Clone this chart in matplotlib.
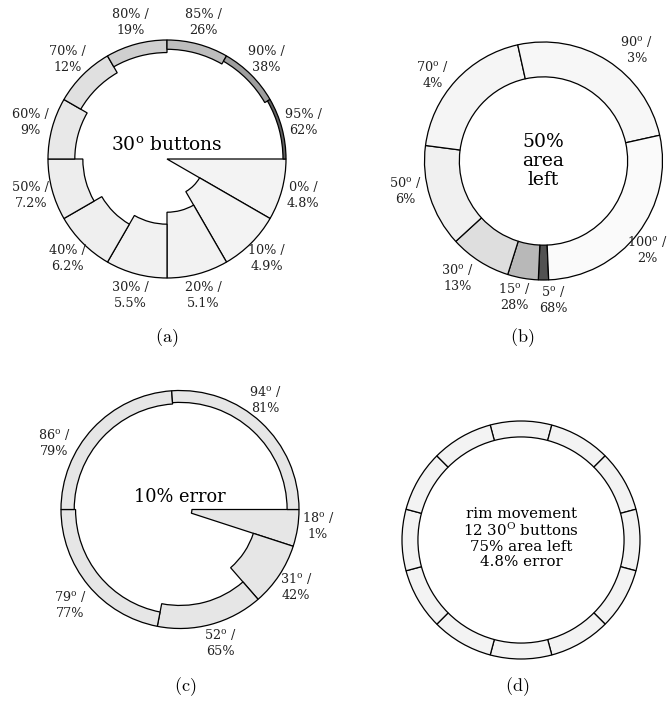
import matplotlib
matplotlib.use('Agg')
import matplotlib.pyplot as plt
from matplotlib.patches import Wedge
import numpy as np

plt.rcParams['font.family'] = 'DejaVu Serif'
plt.rcParams['mathtext.fontset'] = 'dejavuserif'

# (a) twelve 30 degree buttons, hole area grows
a_area = [0, 10, 20, 30, 40, 50, 60, 70, 80, 85, 90, 95]
a_error = [4.8, 4.9, 5.1, 5.5, 6.2, 7.2, 9, 12, 19, 26, 38, 62]
a_width = [30] * 12

# (b) 50% area left, button sizes vary
b_width = [5, 15, 30, 50, 70, 90, 100]
b_error = [68, 28, 13, 6, 4, 3, 2]
b_area = 50

# (c) 10% error, button size vs area left
c_width = [18, 31, 52, 79, 86, 94]
c_area = [1, 42, 65, 77, 79, 81]
c_error = 10

# (d) rim movement
d_width = [30] * 12
d_area = 75
d_error = 4.8
d_text = "rim movement\n12 30$^{\\mathrm{O}}$ buttons\n75% area left\n4.8% error"

R = 119
S = 175
W, H = 670, 703

fig = plt.figure(figsize=(6.7, 7.03), dpi=100)


def panel(cx, cy):
    ax = fig.add_axes([(cx - S) / W, (H - cy - S) / H, 2 * S / W, 2 * S / H])
    ax.set_xlim(-S, S)
    ax.set_ylim(-S, S)
    ax.axis('off')
    return ax


def ring(ax, widths, areas, errors, start):
    theta = start
    mids = []
    for w, ar, er in zip(widths, areas, errors):
        rin = R * np.sqrt(ar / 100)
        g = 1 - er / 100
        ax.add_patch(Wedge((0, 0), R, theta - w, theta, width=R - rin,
                           facecolor=(g, g, g), edgecolor='black', lw=0.9))
        mids.append(theta - w / 2)
        theta -= w
    return mids


def labels(ax, mids, texts, nudge, rads):
    for m, t, n, rr in zip(mids, texts, nudge, rads):
        ang = np.deg2rad(m + n)
        ax.text(rr * np.cos(ang), rr * np.sin(ang), t, ha='center', va='center',
                fontsize=9.2, linespacing=1.3, color='#222222')


# (a)
ax = panel(167, 159)
mids = ring(ax, a_width, a_area, a_error, 0)
labels(ax, mids, [f"{a}% /\n{e:g}%" for a, e in zip(a_area, a_error)],
       [0] * 12, [141] * 12)
ax.text(0, 9, "30$^{\\mathrm{o}}$ buttons", ha='center', va='baseline', fontsize=13.5)

# (b)
ax = panel(543.5, 161)
mids = ring(ax, b_width, [b_area] * len(b_width), b_error, 270 + b_width[0] / 2)
labels(ax, mids, [f"{w}$^{{\\mathrm{{o}}}}$ /\n{e}%" for w, e in zip(b_width, b_error)],
       [4, -2, -4, -5.5, 4.5, -7.5, -3], [139, 139, 145, 141, 141, 145, 136])
ax.text(0, 0, "50%\narea\nleft", ha='center', va='center', fontsize=13.5, linespacing=1.05)

# (c)
ax = panel(180, 509.5)
mids = ring(ax, c_width, c_area, [c_error] * len(c_width), 0)
labels(ax, mids, [f"{w}$^{{\\mathrm{{o}}}}$ /\n{a}%" for w, a in zip(c_width, c_area)],
       [2.4, 0, 2, 1.5, 15, 5], [139, 139, 139, 145, 143, 139])
ax.text(0, 7, "10% error", ha='center', va='baseline', fontsize=12.8)

# (d)
ax = panel(521, 540)
ring(ax, d_width, [d_area] * len(d_width), [d_error] * len(d_width), 105)
ax.text(0, 2, d_text, ha='center', va='center', fontsize=10.8, linespacing=1.1)

# captions
for lab, x, y in [('a', 167, 338), ('b', 522, 338), ('c', 185, 687), ('d', 517, 687)]:
    fig.text(x / W, 1 - y / H, f"$\\mathrm{{({lab})}}$", ha='center', va='center',
             fontsize=13, math_fontfamily='cm')

fig.savefig('out.png', dpi=100)
